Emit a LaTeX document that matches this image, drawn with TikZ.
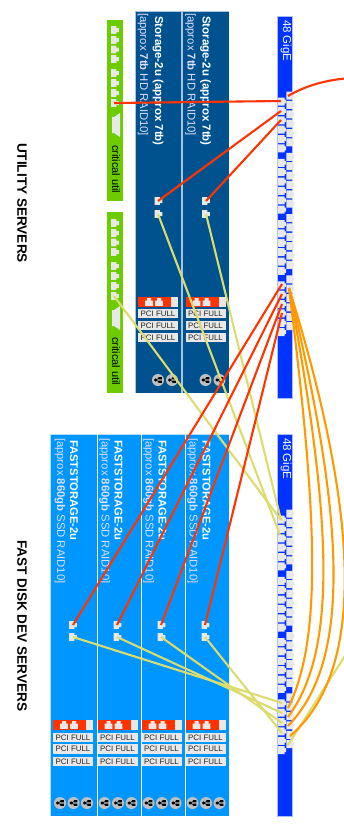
\documentclass[tikz,border=0pt]{standalone}
\usepackage{fontspec}
\setmainfont{Liberation Sans}
\definecolor{darkpanel}{HTML}{00528F}
\definecolor{fastpanel}{HTML}{0096FF}
\definecolor{divdark}{HTML}{A8C4E0}
\definecolor{greenbar}{HTML}{6CCC00}
\definecolor{redline}{HTML}{FF3300}
\definecolor{orangeline}{HTML}{FF9900}
\definecolor{yellowline}{HTML}{DCDC6E}
\definecolor{portgrey}{HTML}{E8E8E8}
\definecolor{swblue}{HTML}{0033FF}
\definecolor{swedge}{HTML}{AABBFF}
\newcommand{\fsz}[1]{\fontsize{#1}{#1}\selectfont}
\tikzset{
  x=1pt,y=-1pt,
  redwire/.style={draw=redline,line width=2.1pt},
  yellowwire/.style={draw=yellowline,line width=2.1pt},
  orangewire/.style={draw=orangeline,line width=2.1pt},
  vtext/.style={rotate=-90,anchor=west,inner sep=0pt,outer sep=0pt},
  titletext/.style={vtext,text=white,font=\fsz{11.5}\bfseries},
  subtext/.style={vtext,text=white!88!blue,font=\fsz{11.3}},
  pcibox/.style={fill=portgrey,draw=none,minimum width=40pt,minimum height=9.5pt,inner sep=0pt,font=\fsz{7.9},text=black!85},
  jack/.pic={\path[fill=portgrey] (-3.9,3.9) -- (3.9,3.9) -- (3.9,-1.4) -- (2,-1.4) -- (2,-3.9) -- (-2,-3.9) -- (-2,-1.4) -- (-3.9,-1.4) -- cycle;},
  disk/.pic={\path[fill=black!25] (0,0) circle (6);
    \path[fill=black] (-2.4,0) circle (1.7) (0.4,-2.8) rectangle (3.9,-0.7) (0.4,0.7) rectangle (3.9,2.8);
    \draw[black,line width=.6pt] (-2.4,0) -- (1,-1.7) (-2.4,0) -- (1,1.7);},
  swport/.pic={\path[fill=portgrey] (-3.3,0.5) -- (3.3,0.5) -- (3.3,8.6) -- (-3.3,8.6) -- cycle (3.3,2.6) -- (4.8,2.6) -- (4.8,6.4) -- (3.3,6.4) -- cycle;},
}
\newcommand{\switchbox}[2]{% #1 top offset, #2 name
  \path[fill=swblue,draw=swedge,line width=.8pt] (277.5,16+#1) rectangle (292.8,398+#1);
  \node[vtext,text=white,font=\fsz{11.5}] (#2label) at (286,20+#1) {48 GigE};
  \foreach \g in {0,...,3}{\foreach \p in {0,...,5}{
    \pgfmathsetmacro{\yr}{91+#1+\g*61.25+\p*9.375}
    \pgfmathsetmacro{\yl}{97+#1+\g*61.25+\p*9.375}
    \pic at (281.2,\yl) {swport};
    \begin{scope}[shift={(289.6,\yr)},xscale=-1]\pic at (0,0) {swport};\end{scope}
  }}
}
\begin{document}
\begin{tikzpicture}
\useasboundingbox (0,0) rectangle (344,825);
\clip (0,0) rectangle (344,825);
% section labels
\node[vtext,font=\fsz{13.6}\bfseries] (utillabel) at (22,143) {UTILITY SERVERS};
\node[vtext,font=\fsz{13.6}\bfseries] (fastlabel) at (22,540) {FAST DISK DEV SERVERS};
% green utility bars
\foreach \nm/\t/\b/\o in {a/20/201/0,b/212/393/193}{
  \path[fill=greenbar] (107,\t) rectangle (123,\b);
  \foreach \y in {30,40,49.5,59,73,83,93,103}{\pic[rotate=-90] at (115,\y+\o) {jack};}
  \path[fill=portgrey] (112,117+\o) -- (114,117+\o) -- (120,113+\o) -- (120,137+\o) -- (114,133+\o) -- (112,133+\o) -- cycle;
  \node[vtext,font=\fsz{11}] (crit\nm) at (116,145+\o-\ifnum\o=0 0\else 1\fi) {critical util};
}
% storage servers
\path[fill=darkpanel] (135,12) rectangle (229,393);
\draw[divdark,line width=.8pt] (135,393) -- (135,11.5) -- (229,11.5);
\draw[divdark,line width=1.1pt] (182,12) -- (182,393);
\foreach \o in {0,47.5}{
  \node[titletext] at (158+\o,16) {Storage-2u (approx 7tb)};
  \node[subtext] at (143+\o,13) {[approx \textbf{7tb} HD RAID10]};
  \pic[rotate=-90] at (158.5+\o,201) {jack};
  \pic[rotate=-90] at (158.5+\o,214) {jack};
  \path[fill=portgrey] (138+\o,297) rectangle (178+\o,307);
  \path[fill=redline] (138+\o,297) rectangle (171+\o,307);
  \pic at (149+\o,302) {jack};
  \pic at (159+\o,302) {jack};
  \node[pcibox] at (158+\o,313.5) {PCI FULL};
  \node[pcibox] at (158+\o,325.5) {PCI FULL};
  \node[pcibox] at (158+\o,337.5) {PCI FULL};
  \pic at (158+\o,380) {disk};
  \pic at (172+\o,380) {disk};
}
% fast servers
\path[fill=fastpanel] (50,434) rectangle (229,816);
\draw[white!70!fastpanel,line width=.8pt] (50,816) -- (50,434) -- (229,434);
\foreach \x in {97,141,185}{\draw[white,line width=.9pt] (\x,434) -- (\x,816);}
\foreach \o/\r in {0/86,44.5/130.5,88.5/174.5,132.5/218.5}{
  \node[vtext,text=white,font=\fsz{11.2}\bfseries] at (74+\o,440) {FASTSTORAGE-2u};
  \node[subtext] at (60+\o,438) {[approx \textbf{860gb} SSD RAID10]};
  \pic[rotate=-90] at (73+\o,625) {jack};
  \pic[rotate=-90] at (73+\o,637) {jack};
  \path[fill=portgrey] (53+\o,720) rectangle (93+\o,730);
  \path[fill=redline] (53+\o,720) rectangle (\r,730);
  \pic at (64+\o,725) {jack};
  \pic at (74+\o,725) {jack};
  \node[pcibox] at (73+\o,737.5) {PCI FULL};
  \node[pcibox] at (73+\o,749) {PCI FULL};
  \node[pcibox] at (73+\o,761.5) {PCI FULL};
  \pic at (60+\o,803) {disk};
  \pic at (73.5+\o,803) {disk};
  \pic at (87+\o,803) {disk};
}
% switches
\switchbox{0}{swa}
\switchbox{418}{swb}
% connector ends
\coordinate (gA) at (114,103);
\coordinate (gB) at (114,296);
\coordinate (sAr) at (158,201); \coordinate (sAy) at (158,214);
\coordinate (sBr) at (206,201); \coordinate (sBy) at (206,214);
\foreach \n/\x in {1/73,2/117,3/161,4/205}{
  \coordinate (f\n r) at (\x,625);
  \coordinate (f\n y) at (\x,637);
}
\coordinate (pa0) at (288,96); \coordinate (pa1) at (281,101);
\coordinate (pa2) at (281,111); \coordinate (pa3) at (281,120);
\coordinate (pr1) at (282,284); \coordinate (pr2) at (282,294);
\coordinate (pr3) at (282,304); \coordinate (pr4) at (282,313);
\coordinate (po) at (289,288);
\coordinate (qa) at (281,520); \coordinate (qb) at (280,535);
\coordinate (qy1) at (282,703); \coordinate (qy2) at (282,713);
\coordinate (qy3) at (282,723); \coordinate (qy4) at (282,733);
\coordinate (qo1) at (288,708); \coordinate (qo2) at (288,717);
\coordinate (qo3) at (288,726); \coordinate (qo4) at (290,736);
\coordinate (qz) at (288,745);
\coordinate (off1) at (350,78); \coordinate (off2) at (350,648);
% wires
\draw[yellowwire] (gB) -- (qa);
\draw[yellowwire] (sAy) -- (qb);
\draw[yellowwire] (sBy) -- (qa);
\foreach \n in {1,2,3,4}{\draw[yellowwire] (f\n y) -- (qy\n);}
\draw[yellowwire] (qz) -- (off2);
\draw[redwire] (pa0) .. controls (305,86) and (325,80) .. (off1);
\draw[redwire] (gA) -- (pa1);
\draw[redwire] (sAr) -- (pa2);
\draw[redwire] (sBr) -- (pa3);
\foreach \n in {1,2,3,4}{\draw[redwire] (f\n r) -- (pr\n);}
\draw[orangewire] (po) .. controls (318,520) and (322,640) .. (qo1);
\draw[orangewire] (po) .. controls (332,520) and (338,650) .. (qo2);
\draw[orangewire] (po) .. controls (345,520) and (352,660) .. (qo3);
\draw[orangewire] (po) .. controls (358,510) and (368,670) .. (qo4);
\end{tikzpicture}
\end{document}
